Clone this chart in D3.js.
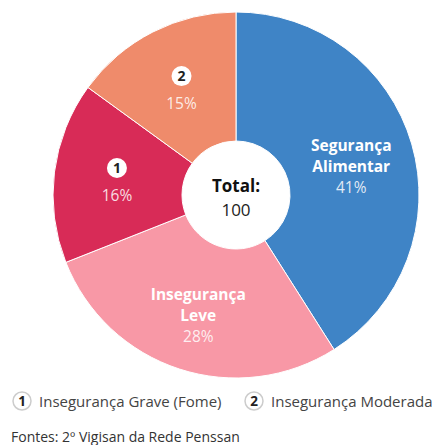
<!DOCTYPE html>
<html>
<head>
<meta charset="utf-8">
<script src="https://cdn.jsdelivr.net/npm/d3@7"></script>
<style>
  body { margin: 0; background: #fff; }
  svg text { font-family: "Open Sans", sans-serif; }
</style>
</head>
<body>
<div id="chart"></div>
<script>
// data
var categories = ["Segurança Alimentar", "Insegurança Leve", "Insegurança Grave (Fome)", "Insegurança Moderada"];
var values = [41, 28, 16, 15];
var colors = ["#3f84c6", "#f898a6", "#d82b57", "#ef8b6b"];
var badges = [null, null, "1", "2"];
var sliceLines = [["Segurança", "Alimentar"], ["Insegurança", "Leve"], [], []];
var legendItems = [{n: "1", label: "Insegurança Grave (Fome)"}, {n: "2", label: "Insegurança Moderada"}];
var totalValue = 100;
var source = "Fontes: 2º Vigisan da Rede Penssan";

var width = 434, height = 445;
var cx = 236, cy = 195, outerR = 183, innerR = 54;

var svg = d3.select("#chart").append("svg")
    .attr("width", width)
    .attr("height", height);

var pie = d3.pie().sort(null).value(function(d){ return d; });
var arcs = pie(values);

var arc = d3.arc().innerRadius(innerR).outerRadius(outerR);
// where the labels go, differs per slice
var labelRadius = [120, 122, 120, 120];

var g = svg.append("g").attr("transform", "translate(" + cx + "," + cy + ")");

g.selectAll("path")
    .data(arcs)
    .enter()
    .append("path")
    .attr("d", arc)
    .attr("fill", function(d, i){ return colors[i]; })
    .attr("stroke", "#fff")
    .attr("stroke-width", 1);

arcs.forEach(function(d, i){
    var a = (d.startAngle + d.endAngle) / 2;
    var r = labelRadius[i];
    var x = Math.sin(a) * r, y = -Math.cos(a) * r;
    var lab = g.append("g").attr("transform", "translate(" + x + "," + y + ")");
    var pct = d.data + "%";
    if (badges[i]) {
        lab.append("circle").attr("cx", 0).attr("cy", -12).attr("r", 10).attr("fill", "#fff");
        lab.append("text").attr("x", 0).attr("y", -7).attr("text-anchor", "middle")
            .attr("font-size", 14).attr("font-weight", 700).attr("fill", "#222").text(badges[i]);
        lab.append("text").attr("x", 0).attr("y", 21).attr("text-anchor", "middle")
            .attr("font-size", 15.5).attr("fill", "#fff").attr("fill-opacity", 0.85).text(pct);
    } else {
        var lines = sliceLines[i];
        lines.forEach(function(t, k){
            lab.append("text").attr("x", 0).attr("y", -11 + k * 21).attr("text-anchor", "middle")
                .attr("font-size", 15.5).attr("font-weight", 700).attr("fill", "#fff").text(t);
        });
        lab.append("text").attr("x", 0).attr("y", -11 + lines.length * 21).attr("text-anchor", "middle")
            .attr("font-size", 15.5).attr("fill", "#fff").attr("fill-opacity", 0.85).text(pct);
    }
});

// centre
g.append("text").attr("x", 0).attr("y", -3).attr("text-anchor", "middle")
    .attr("font-size", 17).attr("font-weight", 700).attr("fill", "#111").text("Total:");
g.append("text").attr("x", 0).attr("y", 21).attr("text-anchor", "middle")
    .attr("font-size", 17).attr("fill", "#222").text(totalValue);

// legend
var legendX = [22, 254];
legendItems.forEach(function(d, i){
    var lg = svg.append("g").attr("transform", "translate(" + legendX[i] + ",401)");
    lg.append("circle").attr("r", 9).attr("fill", "#fff").attr("stroke", "#ccc").attr("stroke-width", 1.5);
    lg.append("text").attr("y", 5).attr("text-anchor", "middle").attr("font-size", 13.5)
        .attr("font-weight", 700).attr("fill", "#222").text(d.n);
    lg.append("text").attr("x", 17).attr("y", 5.5).attr("font-size", 15).attr("fill", "#444").text(d.label);
});

svg.append("text").attr("x", 11).attr("y", 442).attr("font-size", 14).attr("fill", "#333").text(source);
</script>
</body>
</html>
